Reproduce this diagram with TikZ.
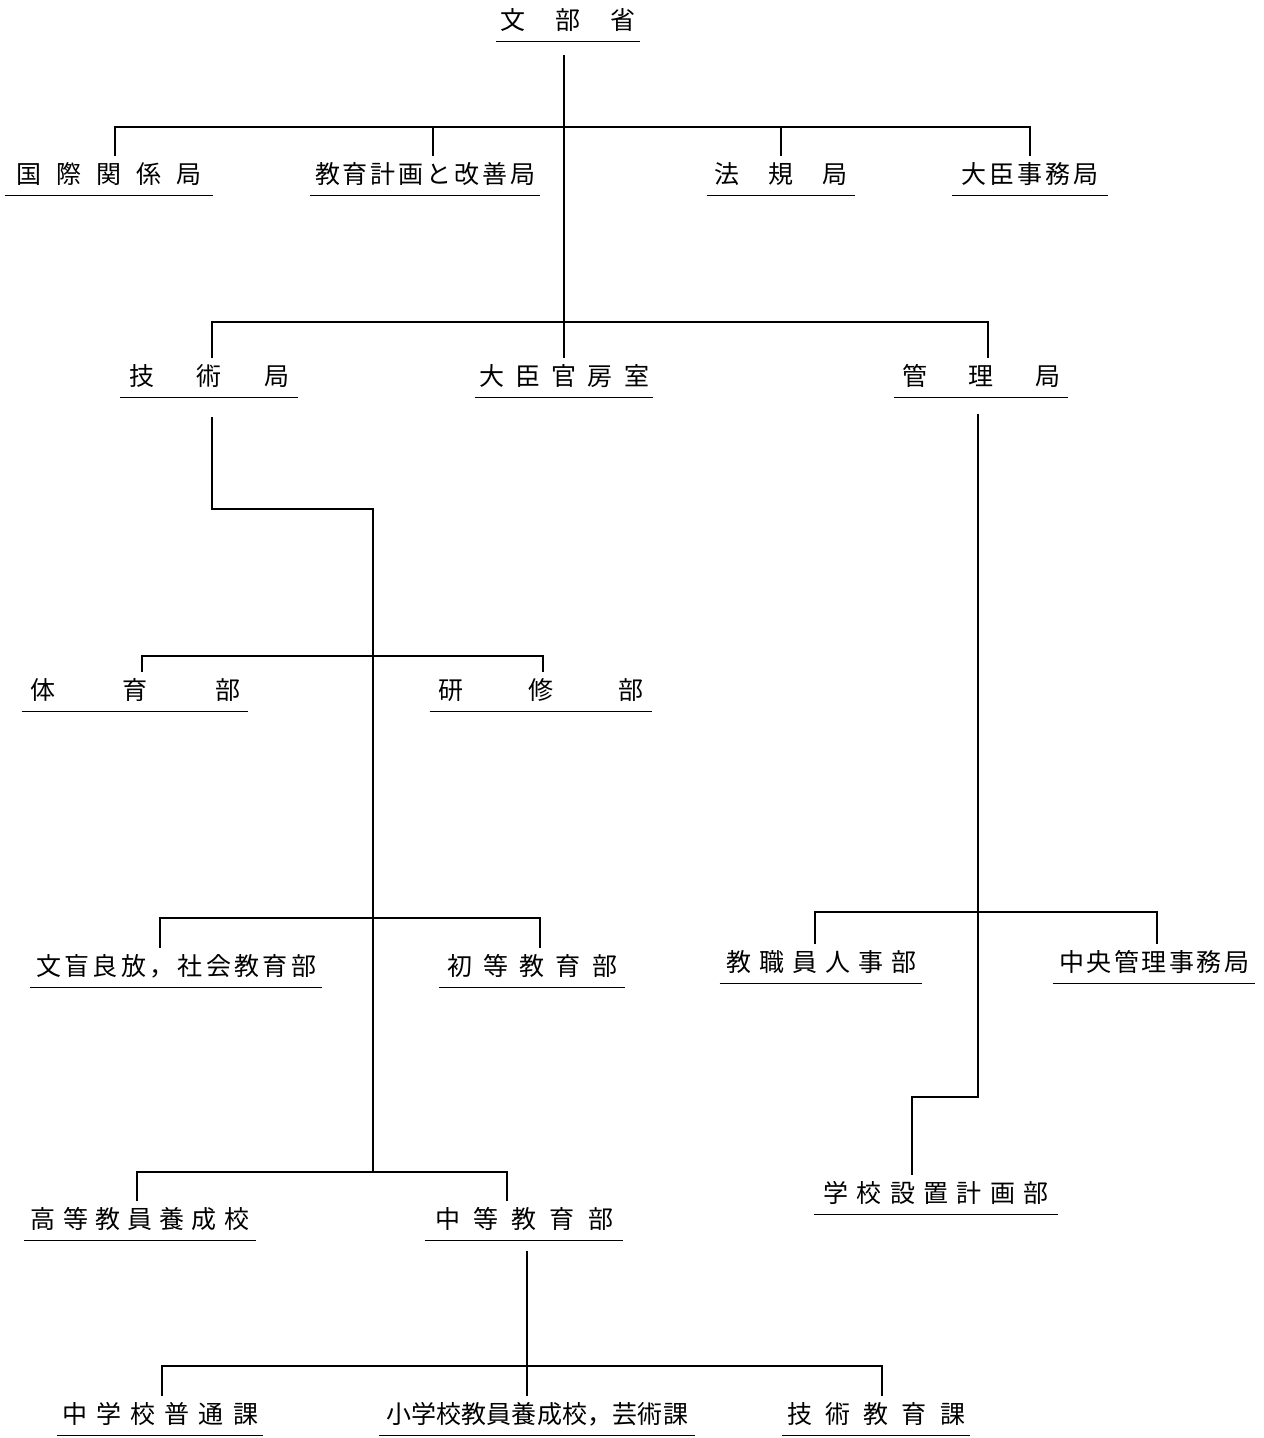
\documentclass[tikz,border=0pt]{standalone}
\usepackage{fontspec}
\newfontfamily\cjk{Noto Sans CJK JP}
\newcommand\spreadtext[2]{\makebox[\dimexpr #1pt/2\relax][s]{#2}}
\tikzset{
  unit/.style={font=\cjk\fontsize{12.5}{13}\selectfont, inner xsep=0pt, inner ysep=3.3pt,
    text height=10pt, text depth=2.8pt, anchor=center},
  link/.style={line width=0.7pt},
  uline/.style={line width=0.6pt},
}
\begin{document}
\begin{tikzpicture}[x=0.5pt,y=-0.5pt]
\useasboundingbox (0,0) rectangle (1263,1438);
% nodes
\node[unit, minimum width=71.5pt] (root) at (568,22) {\spreadtext{135}{文\hfil 部\hfil 省}};
\node[unit, minimum width=104pt] (r1a) at (109,176) {\spreadtext{185}{国\hfil 際\hfil 関\hfil 係\hfil 局}};
\node[unit, minimum width=115pt] (r1b) at (425,176) {\spreadtext{220}{教\hfil 育\hfil 計\hfil 画\hfil と\hfil 改\hfil 善\hfil 局}};
\node[unit, minimum width=74pt] (r1c) at (781,176) {\spreadtext{133}{法\hfil 規\hfil 局}};
\node[unit, minimum width=77.5pt] (r1d) at (1030,176) {\spreadtext{137}{大\hfil 臣\hfil 事\hfil 務\hfil 局}};
\node[unit, minimum width=89pt] (r2a) at (209,378) {\spreadtext{160}{技\hfil 術\hfil 局}};
\node[unit, minimum width=89pt] (r2b) at (564,378) {\spreadtext{170}{大\hfil 臣\hfil 官\hfil 房\hfil 室}};
\node[unit, minimum width=86.5pt] (r2c) at (981,378) {\spreadtext{158}{管\hfil 理\hfil 局}};
\node[unit, minimum width=113pt] (r3a) at (135,692) {\spreadtext{210}{体\hfil 育\hfil 部}};
\node[unit, minimum width=111pt] (r3b) at (541,692) {\spreadtext{205}{研\hfil 修\hfil 部}};
\node[unit, minimum width=146pt] (r4a) at (176,968) {\spreadtext{280}{文\hfil 盲\hfil 良\hfil 放\hfil ，\hfil 社\hfil 会\hfil 教\hfil 育\hfil 部}};
\node[unit, minimum width=92.5pt] (r4b) at (532,968) {\spreadtext{170}{初\hfil 等\hfil 教\hfil 育\hfil 部}};
\node[unit, minimum width=101pt] (r4c) at (821,964) {\spreadtext{190}{教\hfil 職\hfil 員\hfil 人\hfil 事\hfil 部}};
\node[unit, minimum width=101pt] (r4d) at (1154,964) {\spreadtext{190}{中\hfil 央\hfil 管\hfil 理\hfil 事\hfil 務\hfil 局}};
\node[unit, minimum width=115.5pt] (r5a) at (140,1221) {\spreadtext{218}{高\hfil 等\hfil 教\hfil 員\hfil 養\hfil 成\hfil 校}};
\node[unit, minimum width=99pt] (r5b) at (524,1221) {\spreadtext{178}{中\hfil 等\hfil 教\hfil 育\hfil 部}};
\node[unit, minimum width=121.5pt] (r5c) at (936,1195) {\spreadtext{225}{学\hfil 校\hfil 設\hfil 置\hfil 計\hfil 画\hfil 部}};
\node[unit, minimum width=102.5pt] (r6a) at (160,1416) {\spreadtext{196}{中\hfil 学\hfil 校\hfil 普\hfil 通\hfil 課}};
\node[unit, minimum width=157.5pt] (r6b) at (537,1416) {\spreadtext{302}{小\hfil 学\hfil 校\hfil 教\hfil 員\hfil 養\hfil 成\hfil 校\hfil ，\hfil 芸\hfil 術\hfil 課}};
\node[unit, minimum width=94pt] (r6c) at (876,1416) {\spreadtext{178}{技\hfil 術\hfil 教\hfil 育\hfil 課}};
% underlines
\foreach \n in {root,r1a,r1b,r1c,r1d,r2a,r2b,r2c,r3a,r3b,r4a,r4b,r4c,r4d,r5a,r5b,r5c,r6a,r6b,r6c}
  \draw[uline] (\n.south west) -- (\n.south east);
% bus levels
\coordinate (b1) at (0,127);
\coordinate (b2) at (0,322);
\coordinate (t1) at (0,509);
\coordinate (b3) at (0,656);
\coordinate (b4) at (0,918);
\coordinate (b5) at (0,1172);
\coordinate (m1) at (0,1097);
\coordinate (b4r) at (0,912);
\coordinate (b6) at (0,1366);
% top trunk
\draw[link] ([yshift=-6.5pt]root.south -| r2b.north) -- (r2b.north);
\draw[link] ([xshift=3pt]r1a.north) -- ([xshift=3pt]r1a.north |- b1) -- (r1d.north |- b1) -- (r1d.north);
\draw[link] ([xshift=4pt]r1b.north |- b1) -- ([xshift=4pt]r1b.north);
\draw[link] (r1c.north |- b1) -- (r1c.north);
% second level
\draw[link] ([xshift=1.5pt]r2a.north) -- ([xshift=1.5pt]r2a.north |- b2) -- ([xshift=3.5pt]r2c.north |- b2) -- ([xshift=3.5pt]r2c.north);
% technical bureau branch
\coordinate (tx) at (373,0);
\draw[link] ([xshift=1.5pt,yshift=-9.5pt]r2a.south) -- ([xshift=1.5pt]r2a.south |- t1) -- (tx |- t1) -- (tx |- b5);
\draw[link] ([xshift=3.5pt]r3a.north) -- ([xshift=3.5pt]r3a.north |- b3) -- ([xshift=1pt]r3b.north |- b3) -- ([xshift=1pt]r3b.north);
\draw[link] ([xshift=-8pt]r4a.north) -- ([xshift=-8pt]r4a.north |- b4) -- ([xshift=4pt]r4b.north |- b4) -- ([xshift=4pt]r4b.north);
\draw[link] ([xshift=-1.5pt]r5a.north) -- ([xshift=-1.5pt]r5a.north |- b5) -- ([xshift=-8.5pt]r5b.north |- b5) -- ([xshift=-8.5pt]r5b.north);
% secondary education branch
\coordinate (sx) at (527,0);
\draw[link] ([yshift=-5pt]r5b.south -| sx) -- (sx |- r6b.north);
\draw[link] ([xshift=1pt]r6a.north) -- ([xshift=1pt]r6a.north |- b6) -- ([xshift=3pt]r6c.north |- b6) -- ([xshift=3pt]r6c.north);
% management bureau branch
\draw[link] ([xshift=-1.5pt,yshift=-8pt]r2c.south) -- ([xshift=-1.5pt]r2c.south |- m1) -- ([xshift=-12pt]r5c.north |- m1) -- ([xshift=-12pt]r5c.north);
\draw[link] ([xshift=-3pt]r4c.north) -- ([xshift=-3pt]r4c.north |- b4r) -- ([xshift=1.5pt]r4d.north |- b4r) -- ([xshift=1.5pt]r4d.north);
\end{tikzpicture}
\end{document}
